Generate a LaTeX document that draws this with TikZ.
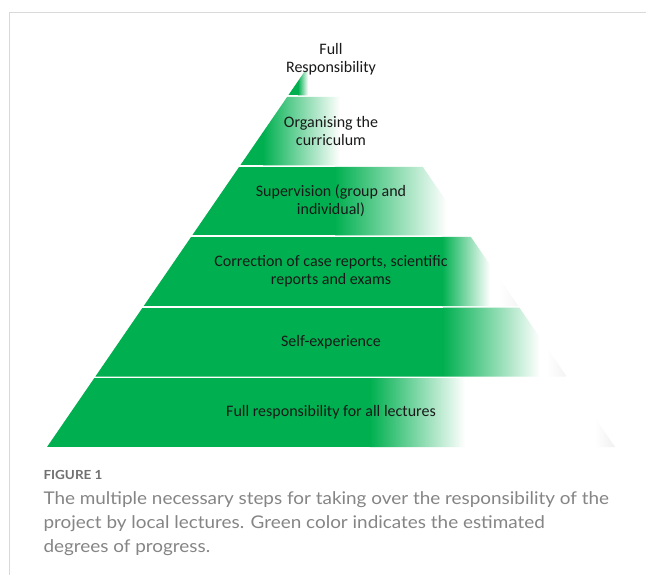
\documentclass[tikz,border=0pt]{standalone}
\usepackage{fontspec}
\setmainfont{Carlito}
\newfontfamily\capfont[FakeStretch=1.08]{Lato}
\usetikzlibrary{calc}
\definecolor{stepgreen}{HTML}{00B050}
\definecolor{framegray}{HTML}{D9D9D9}
\definecolor{capgray}{HTML}{858585}
\definecolor{labelgray}{HTML}{707070}
% one step of the pyramid: (top y:bottom y:end of solid green:end of fade:edge shadow)
\def\pyrstep(#1:#2:#3:#4:#5){
	\begin{scope}
		\clip ({47+0.686*(447-#2)}, #2) -- ({615-0.686*(447-#2)}, #2) -- ({615-0.686*(447-#1)}, #1) -- ({47+0.686*(447-#1)}, #1) -- cycle;
		\fill[stepgreen] (0, #1) rectangle (#3, #2);
		\shade[left color=stepgreen, right color=white] (#3, #1) rectangle (#4, #2);
		\shade[left color=white, right color=black!#5] ({595-0.686*(447-#2)}, #1) rectangle ({615-0.686*(447-#2)}, #2);
	\end{scope}
}
\tikzset{
	steptext/.style={align=center, text=black!90, font=\fontsize{16}{18}\selectfont},
	captext/.style={anchor=base west, text=capgray, font=\capfont\fontsize{17.5}{20}\selectfont},
}

\begin{document}
\begin{tikzpicture}[x=1pt, y=-1pt]
			%%%%% START %%%%%
			
			\useasboundingbox (0, 0) rectangle (646, 575);
			\fill[white] (0, 0) rectangle (646, 575);
			\draw[framegray, line width=1.5] (9.5, 575) -- (9.5, 12.5) -- (646, 12.5);
			
			% steps, bottom to top
			\pyrstep(378:447:370:465:6)
			\pyrstep(307.5:376.5:443:540:5)
			\pyrstep(237:306:442:490:4)
			\pyrstep(167:235.5:335:447:0)
			\pyrstep(97:165.5:263:340:0)
			\pyrstep(33:95.5:298:308:0)
			
			\node[steptext] (top) at (331, 59) {Full\\Responsibility};
			\node[steptext] (curriculum) at (331, 131) {Organising the\\curriculum};
			\node[steptext] (supervision) at (331, 201) {Supervision (group and\\individual)};
			\node[steptext] (correction) at (331, 271) {Correction of case reports, scientific\\reports and exams};
			\node[steptext] (selfexp) at (331, 342) {Self-experience};
			\node[steptext] (lectures) at (331, 412) {Full responsibility for all lectures};
			
			% caption
			\node[anchor=base west, text=labelgray, font=\capfont\bfseries\fontsize{12.5}{15}\selectfont] (figlabel) at (40, 479) {FIGURE 1};
			\node[captext] (cap1) at (40, 504) {The multiple necessary steps for taking over the responsibility of the};
			\node[captext] (cap2) at (40, 528.5) {project by local lectures. Green color indicates the estimated};
			\node[captext] (cap3) at (40, 552) {degrees of progress.};
			
			%%%%% END %%%%%
		\end{tikzpicture}
\end{document}
